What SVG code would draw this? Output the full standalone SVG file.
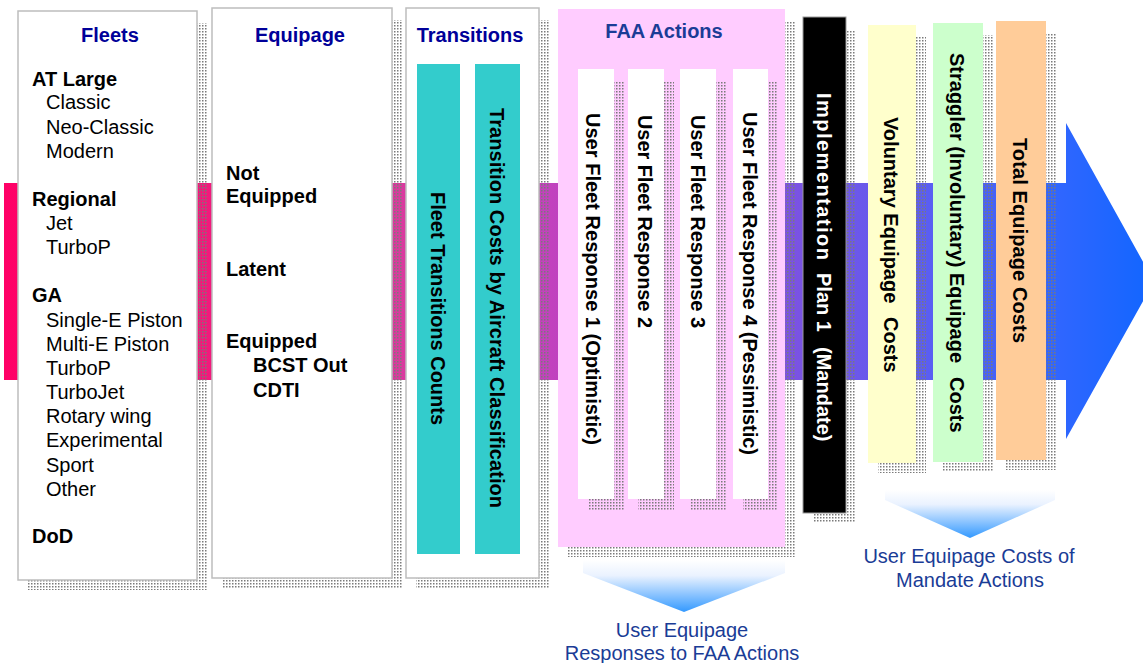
<svg xmlns="http://www.w3.org/2000/svg" width="1143" height="663" viewBox="0 0 1143 663">
<defs>
<linearGradient id="band" gradientUnits="userSpaceOnUse" x1="4" y1="0" x2="1154" y2="0">
<stop offset="0" stop-color="#FF0066"/>
<stop offset="0.17" stop-color="#F2187A"/>
<stop offset="0.344" stop-color="#DA3A9E"/>
<stop offset="0.475" stop-color="#C242BE"/>
<stop offset="0.683" stop-color="#7C52E2"/>
<stop offset="0.805" stop-color="#5A5EF2"/>
<stop offset="0.918" stop-color="#2F66FF"/>
<stop offset="1" stop-color="#1166FF"/>
</linearGradient>
<linearGradient id="chev" x1="0" y1="0" x2="0" y2="1">
<stop offset="0" stop-color="#FFFFFF"/>
<stop offset="0.3" stop-color="#EAF2FF"/>
<stop offset="1" stop-color="#3399FF"/>
</linearGradient>
<pattern id="dots" patternUnits="userSpaceOnUse" width="3" height="3">
<rect x="1" y="1" width="1.5" height="1.5" fill="#7A7A7A"/>
</pattern>
</defs>
<style>
.sh{fill:url(#dots)}
.panel{fill:#FFFFFF;stroke:#BDBDBD;stroke-width:1.5}
.t{font-family:"Liberation Sans",Arial,sans-serif;font-size:20px;fill:#000}
.b{font-weight:bold}
.title{font-family:"Liberation Sans",Arial,sans-serif;font-size:20px;font-weight:bold;fill:#000099;text-anchor:middle}
.title2{font-family:"Liberation Sans",Arial,sans-serif;font-size:20px;font-weight:bold;fill:#1A3C96;text-anchor:middle}
.rot{font-family:"Liberation Sans",Arial,sans-serif;font-size:20px;font-weight:bold;fill:#000;white-space:pre}
.lbl{font-family:"Liberation Sans",Arial,sans-serif;font-size:20px;fill:#1A3C96;text-anchor:middle}
</style>

<g id="connectors">
<polygon id="big-arrow" points="4,183 1066,183 1066,123 1154,281.5 1066,439 1066,380 4,380" fill="url(#band)"/>
<polygon id="chevron-left" points="583,560 785,560 785,573 684,612 583,573" fill="url(#chev)"/>
<polygon id="chevron-right" points="885,490 1055,490 1055,500 970,538 885,500" fill="url(#chev)"/>
</g>

<g id="fleets">
<rect class="sh" x="28" y="23" width="180" height="567"/>
<rect class="panel" x="18" y="11" width="179" height="569"/>
<text class="title" x="110" y="42">Fleets</text>
<text class="t b" x="32" y="86">AT Large</text>
<text class="t" x="46" y="109">Classic</text>
<text class="t" x="46" y="134">Neo-Classic</text>
<text class="t" x="46" y="158">Modern</text>
<text class="t b" x="32" y="206">Regional</text>
<text class="t" x="46" y="230">Jet</text>
<text class="t" x="46" y="254">TurboP</text>
<text class="t b" x="32" y="302">GA</text>
<text class="t" x="46" y="327">Single-E Piston</text>
<text class="t" x="46" y="351">Multi-E Piston</text>
<text class="t" x="46" y="375">TurboP</text>
<text class="t" x="46" y="399">TurboJet</text>
<text class="t" x="46" y="423">Rotary wing</text>
<text class="t" x="46" y="447">Experimental</text>
<text class="t" x="46" y="472">Sport</text>
<text class="t" x="46" y="496">Other</text>
<text class="t b" x="32" y="543">DoD</text>
</g>

<g id="equipage">
<rect class="sh" x="222" y="20" width="180" height="568"/>
<rect class="panel" x="212" y="8" width="180" height="570"/>
<text class="title" x="300" y="42">Equipage</text>
<text class="t b" x="226" y="180">Not</text>
<text class="t b" x="226" y="203">Equipped</text>
<text class="t b" x="226" y="276">Latent</text>
<text class="t b" x="226" y="348">Equipped</text>
<text class="t b" x="253" y="372">BCST Out</text>
<text class="t b" x="253" y="397">CDTI</text>
</g>

<g id="transitions">
<rect class="sh" x="416" y="20" width="133" height="568"/>
<rect class="panel" x="406" y="8" width="133" height="570"/>
<text class="title" x="470" y="42">Transitions</text>
<rect x="417" y="64" width="43" height="490" fill="#33CCCC"/>
<rect x="475" y="64" width="45" height="490" fill="#33CCCC"/>
<text class="rot" transform="translate(438 0) rotate(90)" x="192" y="7" textLength="233" lengthAdjust="spacing">Fleet Transitions Counts</text>
<text class="rot" transform="translate(497 0) rotate(90)" x="108" y="7" textLength="400" lengthAdjust="spacing">Transition Costs by Aircraft Classification</text>
</g>

<g id="faa-actions">
<rect class="sh" x="568" y="22" width="227" height="535"/>
<rect x="558" y="9" width="227" height="538" fill="#FFCCFF"/>
<text class="title2" x="664" y="38">FAA Actions</text>
<rect class="sh" x="588" y="82" width="36" height="428"/>
<rect class="sh" x="638" y="82" width="36" height="428"/>
<rect class="sh" x="690" y="82" width="36" height="428"/>
<rect class="sh" x="743" y="82" width="35" height="428"/>
<rect x="578" y="69" width="36" height="430" fill="#FFFFFF"/>
<rect x="628" y="69" width="36" height="430" fill="#FFFFFF"/>
<rect x="680" y="69" width="36" height="430" fill="#FFFFFF"/>
<rect x="733" y="69" width="35" height="430" fill="#FFFFFF"/>
<text class="rot" transform="translate(593 0) rotate(90)" x="113" y="7" textLength="332" lengthAdjust="spacing">User Fleet Response 1 (Optimistic)</text>
<text class="rot" transform="translate(645 0) rotate(90)" x="115" y="7" textLength="213" lengthAdjust="spacing">User Fleet Response 2</text>
<text class="rot" transform="translate(698 0) rotate(90)" x="115" y="7" textLength="213" lengthAdjust="spacing">User Fleet Response 3</text>
<text class="rot" transform="translate(750 0) rotate(90)" x="112" y="7" textLength="343" lengthAdjust="spacing">User Fleet Response 4 (Pessimistic)</text>
</g>

<g id="implementation">
<rect class="sh" x="813" y="30" width="43" height="493"/>
<rect x="803" y="17" width="43" height="496" fill="#000000" stroke="#9A9A9A" stroke-width="1"/>
<text class="rot" transform="translate(824 0) rotate(90)" y="7" style="fill:#FFFFFF"><tspan x="93" textLength="167" lengthAdjust="spacing">Implementation</tspan><tspan x="273">Plan 1</tspan><tspan x="347">(Mandate)</tspan></text>
</g>

<g id="voluntary">
<rect class="sh" x="878" y="37" width="48" height="436"/>
<rect x="868" y="25" width="48" height="438" fill="#FFFFCC"/>
<text class="rot" transform="translate(891 0) rotate(90)" y="7"><tspan x="117">Voluntary Equipage</tspan><tspan x="317">Costs</tspan></text>
</g>

<g id="straggler">
<rect class="sh" x="943" y="35" width="50" height="437"/>
<rect x="933" y="23" width="50" height="439" fill="#CCFFCC"/>
<text class="rot" transform="translate(957 0) rotate(90)" y="7"><tspan x="53" textLength="310" lengthAdjust="spacing">Straggler (Involuntary) Equipage</tspan><tspan x="377">Costs</tspan></text>
</g>

<g id="total">
<rect class="sh" x="1006" y="33" width="50" height="437"/>
<rect x="996" y="21" width="50" height="439" fill="#FFCC99"/>
<text class="rot" transform="translate(1020 0) rotate(90)" x="138" y="7" textLength="205" lengthAdjust="spacing">Total Equipage Costs</text>
</g>

<g id="label-responses">
<text class="lbl" x="682" y="637">User Equipage</text>
<text class="lbl" x="682" y="660">Responses to FAA Actions</text>
</g>
<g id="label-mandate">
<text class="lbl" x="969" y="563">User Equipage Costs of</text>
<text class="lbl" x="970" y="587">Mandate Actions</text>
</g>
</svg>
